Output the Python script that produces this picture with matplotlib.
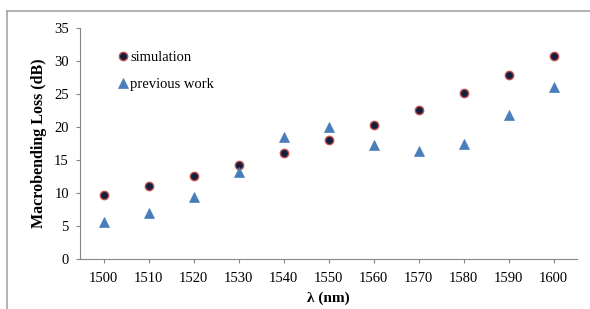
import matplotlib.pyplot as plt
from matplotlib.lines import Line2D

# data
wavelength = [1500, 1510, 1520, 1530, 1540, 1550, 1560, 1570, 1580, 1590, 1600]
simulation = [9.7, 11.1, 12.6, 14.2, 16.1, 18.1, 20.3, 22.6, 25.2, 27.9, 30.8]
previous_work = [5.6, 7.0, 9.4, 13.2, 18.5, 20.0, 17.2, 16.3, 17.4, 21.8, 26.1]
y_ticks = [0, 5, 10, 15, 20, 25, 30, 35]

plt.rcParams['font.family'] = ['Liberation Serif', 'DejaVu Serif']

W, H = 590, 309
fig = plt.figure(figsize=(W / 100, H / 100), dpi=100)
ax = fig.add_axes([80 / W, (H - 259) / H, (577 - 80) / W, (259 - 28) / H])

ax.plot(wavelength, simulation, linestyle='none', marker='o', markersize=6,
        markerfacecolor='#0f1f3d', markeredgecolor='#c0504d', markeredgewidth=1.0)
ax.plot(wavelength, previous_work, linestyle='none', marker='^', markersize=7.5,
        markerfacecolor='#4a7ebb', markeredgecolor='#4a7ebb', markeredgewidth=0.5)

ax.set_xlim(1494.7, 1605.2)
ax.set_ylim(0, 35)
ax.set_xticks(wavelength)
ax.set_yticks(y_ticks)
ax.tick_params(axis='both', labelsize=10.5, length=3, width=0.8, color='#868686', direction='out')
ax.tick_params(axis='x', pad=6)
ax.tick_params(axis='y', pad=5)
for s in ['top', 'right']:
    ax.spines[s].set_visible(False)
for s in ['left', 'bottom']:
    ax.spines[s].set_color('#868686')
    ax.spines[s].set_linewidth(0.8)

ax.set_xlabel('λ (nm)', fontsize=11, fontweight='bold', labelpad=5)
ax.set_ylabel('Macrobending Loss (dB)', fontsize=11.5, fontweight='bold', labelpad=5)

handles = [
    Line2D([], [], linestyle='none', marker='o', markersize=6, markerfacecolor='#0f1f3d',
           markeredgecolor='#c0504d', markeredgewidth=1.0),
    Line2D([], [], linestyle='none', marker='^', markersize=7.5, markerfacecolor='#4a7ebb',
           markeredgecolor='#4a7ebb', markeredgewidth=0.5),
]
ax.legend(handles, ['simulation', 'previous work'], loc='upper left',
          bbox_to_anchor=(0.066, 0.925), frameon=False, fontsize=10.5,
          handlelength=0.6, handletextpad=0.2, labelspacing=0.9, borderaxespad=0)

# chart border (partially cropped in the reference)
fig.add_artist(Line2D([7 / W, 1], [1 - 11 / H, 1 - 11 / H], color='#a6a6a6', linewidth=1.2))
fig.add_artist(Line2D([7 / W, 7 / W], [0, 1 - 11 / H], color='#a6a6a6', linewidth=1.2))

fig.savefig('out.png', dpi=100)
